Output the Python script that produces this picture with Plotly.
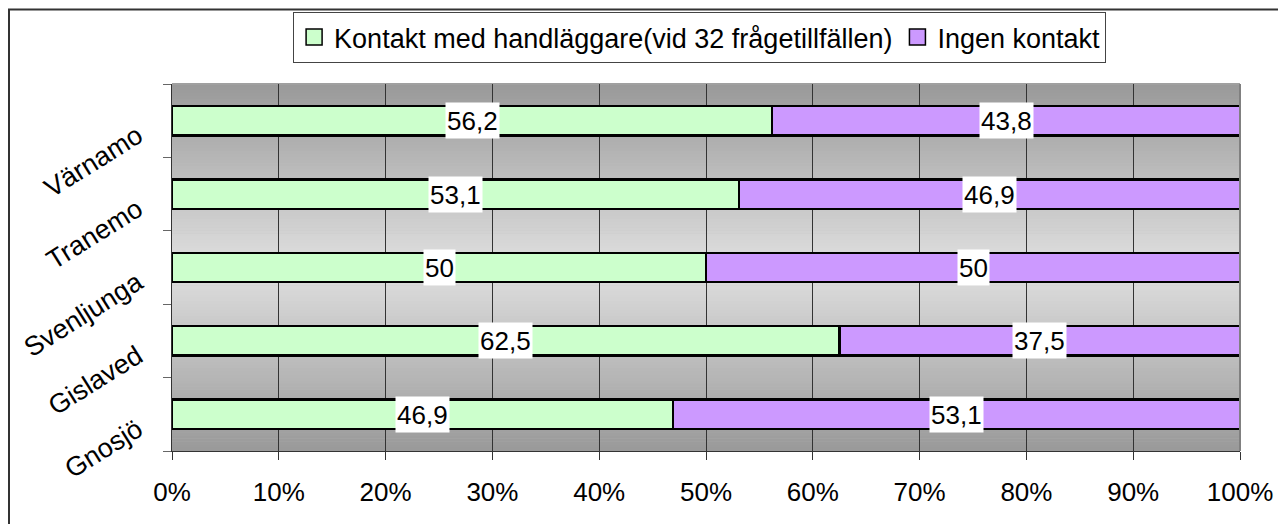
import plotly.graph_objects as go

categories = ["Gnosjö", "Gislaved", "Svenljunga", "Tranemo", "Värnamo"]
kontakt = [46.9, 62.5, 50, 53.1, 56.2]
ingen = [53.1, 37.5, 50, 46.9, 43.8]
series_names = ["Kontakt med handläggare(vid 32 frågetillfällen)", "Ingen kontakt"]
series_colors = ["#CCFFCC", "#CC99FF"]
x_ticks = [0, 10, 20, 30, 40, 50, 60, 70, 80, 90, 100]
x_tick_labels = [f"{t}%" for t in x_ticks]

FONT = "Arial, Liberation Sans, sans-serif"

def fmt(v):
    return f"{v:g}".replace(".", ",")

fig = go.Figure()
for vals, name, col in zip([kontakt, ingen], series_names, series_colors):
    fig.add_trace(go.Bar(
        y=categories, x=vals, orientation="h", name=name, showlegend=False,
        marker=dict(color=col, line=dict(color="#000000", width=2.5)),
    ))
# legend entries with square swatches
for name, col in zip(series_names, series_colors):
    fig.add_trace(go.Scatter(
        x=[None], y=[None], mode="markers", name=name, showlegend=True,
        marker=dict(symbol="square", size=16, color=col, line=dict(color="#000000", width=1.5)),
    ))

annotations = []
for c, k, n in zip(categories, kontakt, ingen):
    for xpos, v in ((k / 2, k), (k + n / 2, n)):
        annotations.append(dict(x=xpos, y=c, xref="x", yref="y", text=fmt(v), showarrow=False,
                                bgcolor="white", borderpad=1, height=33, valign="middle",
                                font=dict(family=FONT, size=26, color="black")))

# vertical gradient background: dark at top/bottom, light in middle
shapes = []
N = 120
top_g, mid_g = 153, 224
for i in range(N):
    t = (i + 0.5) / N
    g = int(round(top_g + (mid_g - top_g) * (1 - abs(2 * t - 1))))
    col = f"rgb({g},{g},{g})"
    shapes.append(dict(type="rect", xref="x domain", yref="y domain",
                       x0=0, x1=1, y0=1 - (i + 1) / N, y1=1 - i / N + 0.001,
                       fillcolor=col, line=dict(width=0), layer="below"))
# plot area top and right edges
shapes.append(dict(type="line", xref="x domain", yref="y domain", x0=0, x1=1, y0=1, y1=1,
                   line=dict(color="#a0a0a0", width=2), layer="below"))
shapes.append(dict(type="line", xref="x domain", yref="y domain", x0=1, x1=1, y0=0, y1=1,
                   line=dict(color="#808080", width=2), layer="above"))
# outer chart frame (only top and left visible)
shapes.append(dict(type="rect", xref="paper", yref="paper",
                   x0=(9 - 172) / 1068, x1=1.2, y0=-0.4, y1=(451 - 9.5) / 367,
                   line=dict(color="#333333", width=2), fillcolor="rgba(0,0,0,0)", layer="above"))

fig.update_layout(
    barmode="stack",
    bargap=0.6,
    width=1278, height=516,
    margin=dict(l=164, r=46, t=76, b=73, autoexpand=False),
    paper_bgcolor="white",
    plot_bgcolor="#c0c0c0",
    font=dict(family=FONT, color="black"),
    legend=dict(orientation="h", x=0.494, xanchor="center", y=(451 - 12) / 367, yanchor="top",
                bordercolor="#444444", borderwidth=1, bgcolor="white",
                font=dict(family=FONT, size=27, color="black"),
                traceorder="normal", itemwidth=30),
    shapes=shapes,
    annotations=annotations,
    showlegend=True,
)
fig.update_xaxes(
    range=[0, 100], tickvals=x_ticks, ticktext=x_tick_labels,
    showgrid=True, gridcolor="#333333", gridwidth=1,
    showline=True, linecolor="#333333", linewidth=1,
    ticks="outside", ticklen=8, tickcolor="#333333",
    tickfont=dict(family=FONT, size=26, color="black"),
    ticklabelstandoff=10, zeroline=False, fixedrange=True,
)
fig.update_yaxes(
    categoryorder="array", categoryarray=categories,
    showgrid=False, showline=True, linecolor="#333333", linewidth=1,
    ticks="outside", ticklen=8, tickcolor="#666666", tickson="boundaries",
    tickangle=-32, tickfont=dict(family=FONT, size=27, color="black"),
    ticklabelstandoff=28, ticklabelshift=12,
    fixedrange=True,
)

fig.write_html("out.html")
